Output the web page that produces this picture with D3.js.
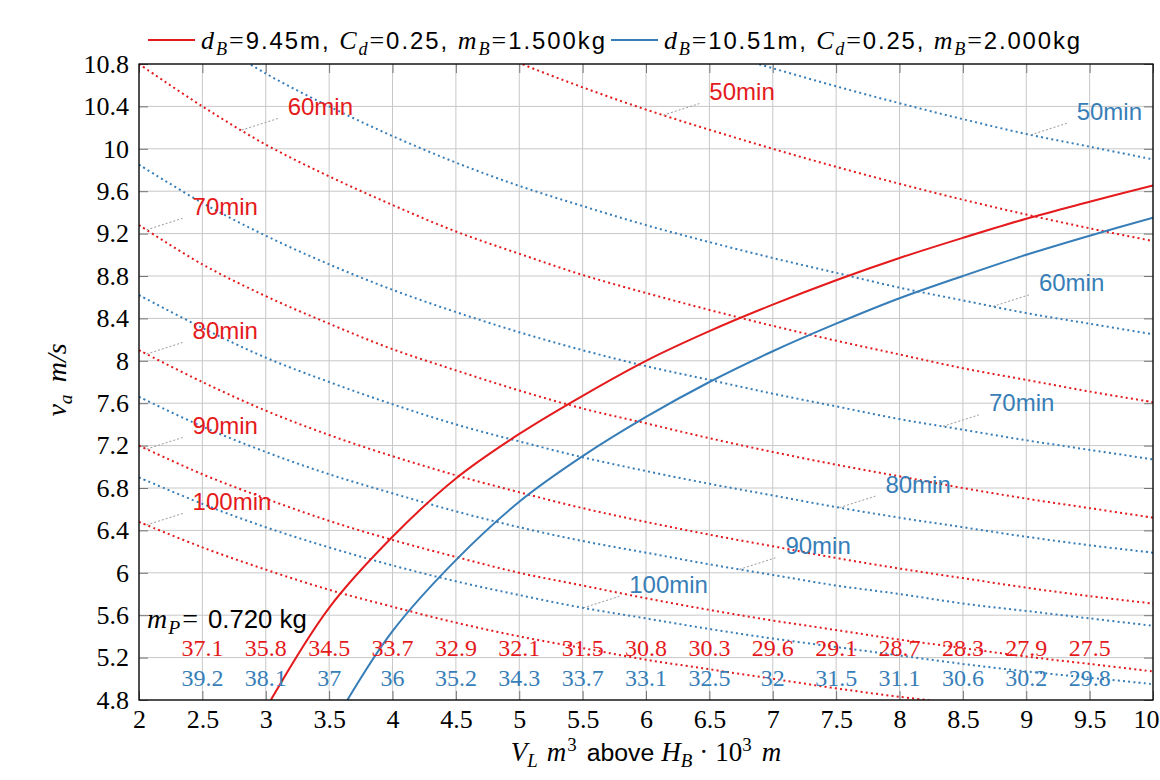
<!DOCTYPE html>
<html>
<head>
<meta charset="utf-8">
<script src="https://cdn.jsdelivr.net/npm/d3@7"></script>
<style>
  body { margin: 0; background: #fff; }
</style>
</head>
<body>
<div id="chart"></div>
<script>
// ---- data ----
const xGrid = [2, 2.5, 3, 3.5, 4, 4.5, 5, 5.5, 6, 6.5, 7, 7.5, 8, 8.5, 9, 9.5, 10];

const times = [50, 60, 70, 80, 90, 100];

// red family (d_B = 9.45 m), v_a at each x of xGrid, null = outside the chart
const red50  = [null, null, null, null, null, 11.07, 10.81, 10.58, 10.37, 10.18, 10.0, 9.83, 9.67, 9.52, 9.38, 9.25, 9.13];
const red60  = [10.8, 10.4, 10.04, 9.74, 9.47, 9.22, 9.01, 8.81, 8.64, 8.48, 8.33, 8.19, 8.06, 7.93, 7.82, 7.71, 7.61];
const red70  = [9.28, 8.91, 8.61, 8.35, 8.11, 7.91, 7.72, 7.55, 7.41, 7.27, 7.14, 7.02, 6.91, 6.8, 6.7, 6.61, 6.52];
const red80  = [8.1, 7.8, 7.53, 7.3, 7.1, 6.92, 6.76, 6.61, 6.48, 6.36, 6.25, 6.14, 6.04, 5.95, 5.86, 5.78, 5.71];
const red90  = [7.2, 6.93, 6.7, 6.49, 6.31, 6.15, 6.0, 5.88, 5.76, 5.65, 5.55, 5.46, 5.37, 5.29, 5.21, 5.14, 5.07];
const red100 = [6.48, 6.24, 6.03, 5.84, 5.68, 5.53, 5.4, 5.29, 5.18, 5.09, 5.0, 4.91, 4.83, 4.76, null, null, null];

// blue family (d_B = 10.51 m)
const blue50  = [null, null, null, null, null, null, null, null, null, 10.94, 10.76, 10.59, 10.43, 10.28, 10.14, 10.02, 9.9];
const blue60  = [null, 11.08, 10.71, 10.4, 10.12, 9.87, 9.65, 9.46, 9.28, 9.12, 8.97, 8.83, 8.69, 8.57, 8.45, 8.35, 8.25];
const blue70  = [9.85, 9.49, 9.18, 8.91, 8.67, 8.46, 8.27, 8.1, 7.95, 7.82, 7.69, 7.57, 7.45, 7.35, 7.25, 7.16, 7.07];
const blue80  = [8.62, 8.31, 8.03, 7.8, 7.59, 7.4, 7.24, 7.09, 6.96, 6.84, 6.73, 6.62, 6.52, 6.43, 6.34, 6.26, 6.19];
const blue90  = [7.66, 7.38, 7.14, 6.93, 6.75, 6.58, 6.43, 6.3, 6.19, 6.08, 5.98, 5.88, 5.8, 5.71, 5.64, 5.57, 5.5];
const blue100 = [6.9, 6.65, 6.43, 6.24, 6.07, 5.92, 5.79, 5.67, 5.57, 5.47, 5.38, 5.3, 5.22, 5.14, 5.07, 5.01, 4.95];

// solid curves
const redSolidX  = [3.04, 3.5, 4, 4.5, 5, 5.5, 6, 6.5, 7, 7.5, 8, 8.5, 9, 9.5, 10];
const redSolidV  = [4.8, 5.67, 6.34, 6.89, 7.31, 7.67, 8.0, 8.28, 8.53, 8.76, 8.97, 9.16, 9.34, 9.5, 9.655];
const blueSolidX = [3.644, 4, 4.5, 5, 5.5, 6, 6.5, 7, 7.5, 8, 8.5, 9, 9.5, 10];
const blueSolidV = [4.8, 5.45, 6.12, 6.67, 7.1, 7.47, 7.8, 8.09, 8.35, 8.59, 8.8, 9.0, 9.18, 9.35];

// numbers printed along the bottom
const bottomX    = [2.5, 3, 3.5, 4, 4.5, 5, 5.5, 6, 6.5, 7, 7.5, 8, 8.5, 9, 9.5];
const redBottom  = ["37.1", "35.8", "34.5", "33.7", "32.9", "32.1", "31.5", "30.8", "30.3", "29.6", "29.1", "28.7", "28.3", "27.9", "27.5"];
const blueBottom = ["39.2", "38.1", "37", "36", "35.2", "34.3", "33.7", "33.1", "32.5", "32", "31.5", "31.1", "30.6", "30.2", "29.8"];

const xTicks = [2, 2.5, 3, 3.5, 4, 4.5, 5, 5.5, 6, 6.5, 7, 7.5, 8, 8.5, 9, 9.5, 10];
const yTicks = [4.8, 5.2, 5.6, 6, 6.4, 6.8, 7.2, 7.6, 8, 8.4, 8.8, 9.2, 9.6, 10, 10.4, 10.8];

// ---- layout ----
const W = 1160, H = 780;
const margin = { top: 64, right: 7, bottom: 80, left: 139 };
const width = W - margin.left - margin.right;
const height = H - margin.top - margin.bottom;

const RED = "#e41a1c", BLUE = "#377eb8";
const SERIF = "'Liberation Serif', 'Times New Roman', serif";
const SANS = "'Liberation Sans', Arial, sans-serif";
const NUM = 26;

// where along each curve the time label sits (x in data units)
const redLabelAt  = [6.137, 2.81, 2.06, 2.06, 2.06, 2.06];
const blueLabelAt = [9.035, 8.737, 8.343, 7.526, 6.737, 5.505];

const svg = d3.select("#chart").append("svg")
    .attr("width", W)
    .attr("height", H);

const g = svg.append("g")
    .attr("transform", `translate(${margin.left}, ${margin.top})`);

const x = d3.scaleLinear().domain([2, 10]).range([0, width]);
const y = d3.scaleLinear().domain([4.8, 10.8]).range([height, 0]);

// grid
g.append("g").selectAll("line").data(xTicks).join("line")
    .attr("x1", d => x(d)).attr("x2", d => x(d))
    .attr("y1", 0).attr("y2", height)
    .attr("stroke", "#c8c8c8").attr("stroke-width", 1);
g.append("g").selectAll("line").data(yTicks).join("line")
    .attr("x1", 0).attr("x2", width)
    .attr("y1", d => y(d)).attr("y2", d => y(d))
    .attr("stroke", "#c8c8c8").attr("stroke-width", 1);

// axes (ticks inside on all four sides)
function styleAxis(sel) {
    sel.select(".domain").remove();
    sel.selectAll(".tick line").attr("stroke", "#777");
    sel.selectAll(".tick text")
        .attr("font-family", SERIF)
        .attr("font-size", NUM)
        .attr("fill", "#000");
}
const xAxisG = g.append("g")
    .attr("transform", `translate(0, ${height})`)
    .call(d3.axisBottom(x).tickValues(xTicks).tickSize(-9).tickPadding(10).tickFormat(d => String(d)))
    .call(styleAxis);
// the last label would run off the page: keep it inside
xAxisG.selectAll(".tick text").filter(d => d === 10)
    .attr("text-anchor", "end").attr("x", W - margin.left - x(10) - 1);

g.append("g")
    .call(d3.axisLeft(y).tickValues(yTicks).tickSize(-9).tickPadding(10).tickFormat(d => String(d)))
    .call(styleAxis);
g.append("g")
    .call(d3.axisTop(x).tickValues(xTicks).tickSize(-9).tickFormat(""))
    .call(styleAxis);
g.append("g")
    .attr("transform", `translate(${width}, 0)`)
    .call(d3.axisRight(y).tickValues(yTicks).tickSize(-9).tickFormat(""))
    .call(styleAxis);

// clip
svg.append("defs").append("clipPath").attr("id", "plotclip")
    .append("rect").attr("width", width).attr("height", height);
const plot = g.append("g").attr("clip-path", "url(#plotclip)");

const line = d3.line()
    .defined(d => d[1] != null)
    .x(d => x(d[0]))
    .y(d => y(d[1]))
    .curve(d3.curveCatmullRom.alpha(0.5));

const redSeries = [red50, red60, red70, red80, red90, red100];
const blueSeries = [blue50, blue60, blue70, blue80, blue90, blue100];

function pairs(vals) { return xGrid.map((xv, i) => [xv, vals[i]]); }

function drawDotted(series, color) {
    series.forEach(vals => {
        plot.append("path")
            .datum(pairs(vals))
            .attr("fill", "none")
            .attr("stroke", color)
            .attr("stroke-width", 2)
            .attr("stroke-dasharray", "2 3.2")
            .attr("d", line);
    });
}
drawDotted(redSeries, RED);
drawDotted(blueSeries, BLUE);

plot.append("path")
    .datum(redSolidX.map((xv, i) => [xv, redSolidV[i]]))
    .attr("fill", "none").attr("stroke", RED).attr("stroke-width", 2)
    .attr("d", line);
plot.append("path")
    .datum(blueSolidX.map((xv, i) => [xv, blueSolidV[i]]))
    .attr("fill", "none").attr("stroke", BLUE).attr("stroke-width", 2)
    .attr("d", line);

// value of a series at arbitrary x (between read points), used for label anchors
function valueAt(vals, xv) {
    for (let i = 0; i < xGrid.length - 1; i++) {
        if (xv >= xGrid[i] && xv <= xGrid[i + 1] && vals[i] != null && vals[i + 1] != null) {
            const t = (xv - xGrid[i]) / (xGrid[i + 1] - xGrid[i]);
            return vals[i] + t * (vals[i + 1] - vals[i]);
        }
    }
    return null;
}

function drawLabels(series, labelAt, color) {
    series.forEach((vals, i) => {
        const px = x(labelAt[i]), py = y(valueAt(vals, labelAt[i]));
        g.append("line")
            .attr("x1", px).attr("y1", py)
            .attr("x2", px + 36).attr("y2", py - 11.5)
            .attr("stroke", "#999").attr("stroke-width", 1)
            .attr("stroke-dasharray", "2 2");
        g.append("text")
            .attr("x", px + 46).attr("y", py - 23.5)
            .attr("dominant-baseline", "central")
            .attr("font-family", SANS).attr("font-size", 24)
            .attr("fill", color)
            .text(times[i] + "min");
    });
}
drawLabels(redSeries, redLabelAt, RED);
drawLabels(blueSeries, blueLabelAt, BLUE);

// bottom number rows
g.append("g").selectAll("text").data(redBottom).join("text")
    .attr("x", (d, i) => x(bottomX[i]))
    .attr("y", height - 44)
    .attr("text-anchor", "middle")
    .attr("font-family", SERIF).attr("font-size", 24)
    .attr("fill", RED)
    .text(d => d);
g.append("g").selectAll("text").data(blueBottom).join("text")
    .attr("x", (d, i) => x(bottomX[i]))
    .attr("y", height - 14)
    .attr("text-anchor", "middle")
    .attr("font-family", SERIF).attr("font-size", 24)
    .attr("fill", BLUE)
    .text(d => d);

// mixed math / sans text
function rich(textSel, parts, size) {
    let shift = 0;
    parts.forEach(([t, kind, dx]) => {
        const ts = textSel.append("tspan").text(t);
        let target = 0;
        if (kind === "sub") target = 0.22 * size;
        if (kind === "sup") target = -0.38 * size;
        ts.attr("dy", target - shift);
        if (dx) ts.attr("dx", dx);
        shift = target;
        if (kind === "sf") {
            ts.attr("font-family", SANS).attr("font-size", size * 0.92);
        } else if (kind === "mi") {
            ts.attr("font-family", SERIF).attr("font-style", "italic").attr("font-size", size);
        } else if (kind === "rm") {
            ts.attr("font-family", SERIF).attr("font-size", size);
        } else if (kind === "sub") {
            ts.attr("font-family", SERIF).attr("font-style", "italic").attr("font-size", size * 0.7);
        } else if (kind === "sup") {
            ts.attr("font-family", SERIF).attr("font-size", size * 0.7);
        }
    });
    return textSel;
}

rich(g.append("text").attr("x", 8).attr("y", height - 72).attr("fill", "#000"),
    [["m", "mi"], ["P", "sub", 1], ["=", "rm", 2], ["0.720 kg", "sf", 10]], 28);

// axis titles
rich(svg.append("text")
        .attr("x", margin.left + width / 2).attr("y", 761)
        .attr("text-anchor", "middle").attr("fill", "#000"),
    [["V", "mi"], ["L", "sub"], ["m", "mi", 9], ["3", "sup", 1], [" above ", "sf", 3],
     ["H", "mi"], ["B", "sub"], ["\u00b7", "rm", 7], ["10", "rm", 7], ["3", "sup"], ["m", "mi", 10]], 27);

rich(svg.append("text")
        .attr("transform", `translate(66, ${margin.top + height / 2 - 2}) rotate(-90)`)
        .attr("text-anchor", "middle").attr("fill", "#000"),
    [["v", "mi"], ["a", "sub"], ["m/s", "mi", 12]], 28);

// legend
const legendEntries = [
    { color: RED, span: 404, parts: [["d", "mi"], ["B", "sub"], ["=", "rm"], ["9.45m, ", "sf"], ["C", "mi"], ["d", "sub"], ["=", "rm"], ["0.25, ", "sf"], ["m", "mi"], ["B", "sub"], ["=", "rm"], ["1.500kg", "sf"]] },
    { color: BLUE, span: 416, parts: [["d", "mi"], ["B", "sub"], ["=", "rm"], ["10.51m, ", "sf"], ["C", "mi"], ["d", "sub"], ["=", "rm"], ["0.25, ", "sf"], ["m", "mi"], ["B", "sub"], ["=", "rm"], ["2.000kg", "sf"]] }
];
let lx = 148;
legendEntries.forEach(e => {
    svg.append("line")
        .attr("x1", lx).attr("x2", lx + 47)
        .attr("y1", 40).attr("y2", 40)
        .attr("stroke", e.color).attr("stroke-width", 2);
    const t = rich(svg.append("text").attr("x", lx + 53).attr("y", 49).attr("fill", "#000"), e.parts, 26);
    t.attr("textLength", e.span).attr("lengthAdjust", "spacing");
    lx = lx + 53 + e.span + 6;
});

// frame
g.append("rect")
    .attr("width", width).attr("height", height)
    .attr("fill", "none").attr("stroke", "#000").attr("stroke-width", 1.3);
</script>
</body>
</html>
